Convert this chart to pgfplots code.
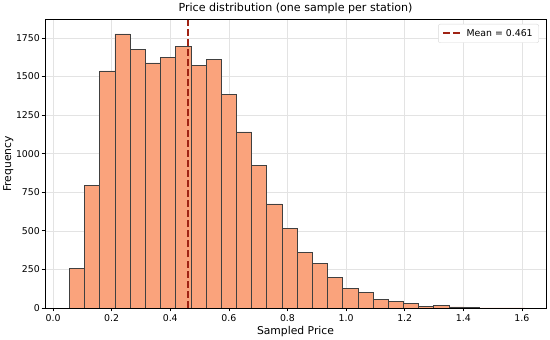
\documentclass[border=0pt]{standalone}
\usepackage{pgfplots}
\pgfplotsset{compat=1.18}
\usepackage{fontspec}
\setmainfont{DejaVu Sans}
\definecolor{barfill}{RGB}{250,163,124}
\definecolor{meanline}{RGB}{160,35,20}
\begin{document}
\begin{tikzpicture}
\begin{axis}[
  width=497pt, height=286pt, scale only axis,
  xmin=-0.027, xmax=1.682, ymin=0, ymax=1869,
  xtick={0,0.2,...,1.6},
  ytick={0,250,...,1750},
  xticklabel style={/pgf/number format/.cd,fixed,fixed zerofill,precision=1},
  yticklabel style={inner xsep=1.5pt, /pgf/number format/.cd,fixed,1000 sep={}},
  /pgf/number format/assume math mode=true,
  scaled x ticks=false, scaled y ticks=false,
  tick pos=left, tick align=outside, major tick length=3.5pt,
  tick style={black, line width=0.6pt},
  grid=major, grid style={gray!22, line width=0.5pt},
  axis line style={black, line width=0.6pt},
  ticklabel style={font=\fontsize{9.3}{11}\selectfont},
  label style={font=\fontsize{10.7}{12}\selectfont},
  title style={font=\fontsize{11}{13}\selectfont, yshift=-4pt},
  title={Price distribution (one sample per station)},
  xlabel={Sampled Price}, ylabel={Frequency},
  xlabel style={yshift=3pt}, ylabel style={yshift=-2.5pt},
  legend style={at={(rel axis cs:0.986,0.985)}, anchor=north east,
    draw=gray!30, rounded corners=2pt, font=\fontsize{9.3}{11}\selectfont,
    inner xsep=4pt, inner ysep=3pt},
  legend cell align=left,
  legend image code/.code={\draw[#1] (0pt,0pt) -- (20pt,0pt);},
]
\addplot[ybar interval, fill=barfill, draw=black!75, line width=0.6pt, forget plot]
coordinates {
(0.0560,255) (0.1078,793) (0.1596,1537) (0.2114,1776) (0.2632,1674)
(0.3150,1589) (0.3668,1624) (0.4186,1696) (0.4704,1570) (0.5222,1611)
(0.5740,1383) (0.6258,1141) (0.6776,924) (0.7294,674) (0.7812,515)
(0.8330,359) (0.8848,291) (0.9366,200) (0.9884,126) (1.0402,98)
(1.0920,54) (1.1438,41) (1.1956,28) (1.2474,11) (1.2992,15)
(1.3510,7) (1.4028,4) (1.4546,0) (1.5064,0) (1.5582,0)
(1.6100,0)
};
\addplot[meanline, line width=2pt, dash pattern=on 7pt off 3pt]
coordinates {(0.461,0) (0.461,1869)};
\addlegendentry{Mean = 0.461}
\end{axis}
\path (current axis.north east) ++(4pt,0pt);
\end{tikzpicture}
\end{document}
